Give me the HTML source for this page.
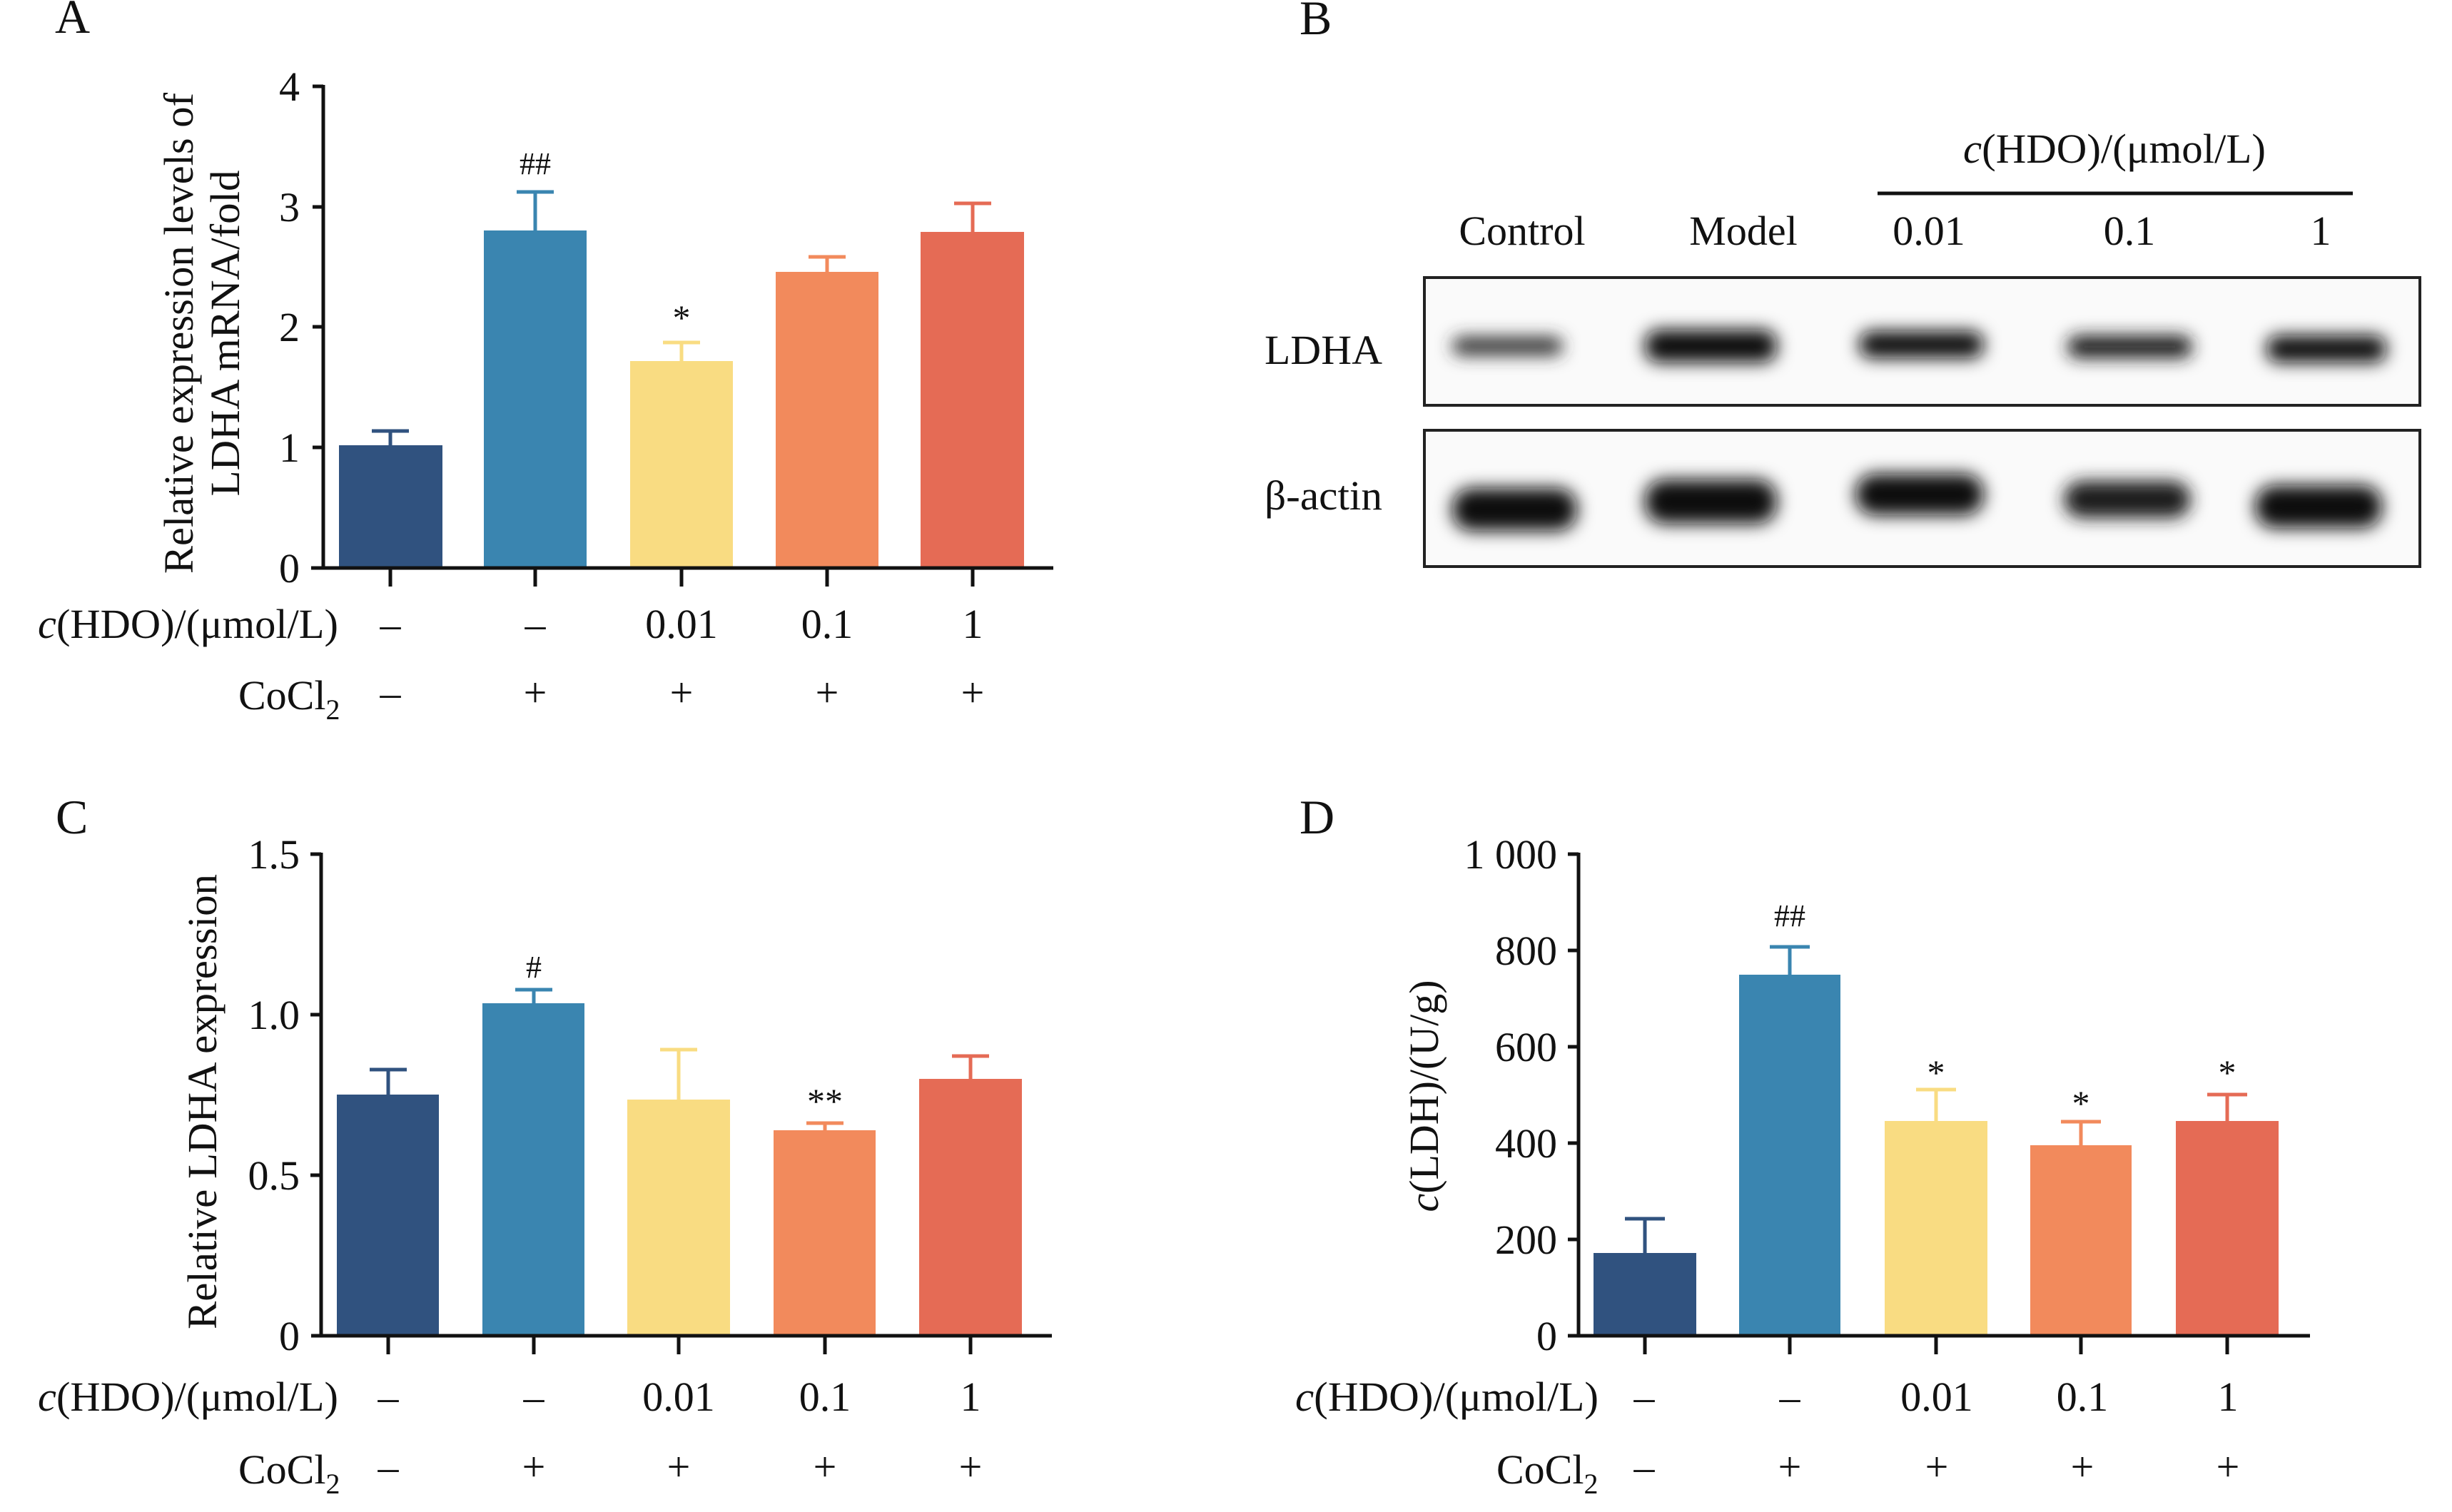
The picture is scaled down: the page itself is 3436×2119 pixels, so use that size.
<!DOCTYPE html>
<html><head><meta charset="utf-8"><style>html,body{margin:0;padding:0;background:#fff}svg{display:block}text{font-family:"Liberation Serif",serif;fill:#111}</style></head><body>
<svg width="3436" height="2119" viewBox="0 0 3436 2119" xmlns="http://www.w3.org/2000/svg">
<defs>
<filter id="bl" x="-20%" y="-80%" width="140%" height="260%"><feGaussianBlur stdDeviation="12"/></filter>
</defs>
<g font-size="58">
<text x="77" y="46" font-size="68">A</text>
<text x="1821" y="48" font-size="68">B</text>
<text x="78" y="1168" font-size="68">C</text>
<text x="1821" y="1168" font-size="68">D</text>

<!-- ===== Panel A ===== -->
<g>
<g transform="translate(-9,0)">
<rect x="484" y="624" width="145" height="172" fill="#30527f"/>
<rect x="687" y="323" width="144" height="473" fill="#3a85b0"/>
<rect x="892" y="506" width="144" height="290" fill="#f9dc82"/>
<rect x="1096" y="381" width="144" height="415" fill="#f28a5c"/>
<rect x="1299" y="325" width="145" height="471" fill="#e56b55"/>
<g stroke-width="5">
<path d="M556 624V604M530 604H582" stroke="#30527f"/>
<path d="M759 323V269M733 269H785" stroke="#3a85b0"/>
<path d="M964 506V480M938 480H990" stroke="#f9dc82"/>
<path d="M1168 381V360M1142 360H1194" stroke="#f28a5c"/>
<path d="M1372 325V285M1346 285H1398" stroke="#e56b55"/>
</g>
<path d="M556 798V822M759 798V822M964 798V822M1168 798V822M1372 798V822" stroke="#111" stroke-width="5"/>
<text x="759" y="244" text-anchor="middle" font-size="44">##</text>
<text x="964" y="462" text-anchor="middle" font-size="50">*</text>
<g text-anchor="middle"><text x="556" y="894">–</text><text x="759" y="894">–</text><text x="964" y="894">0.01</text><text x="1168" y="894">0.1</text><text x="1372" y="894">1</text>
<text x="556" y="990">–</text><text x="759" y="990">+</text><text x="964" y="990">+</text><text x="1168" y="990">+</text><text x="1372" y="990">+</text></g>
</g>
<g stroke="#111" stroke-width="5" fill="none">
<path d="M453 119V798M436 796H1476"/>
<path d="M438 121H453M438 290H453M438 458H453M438 627H453"/>
</g>
<g text-anchor="end"><text x="420" y="141">4</text><text x="420" y="310">3</text><text x="420" y="478">2</text><text x="420" y="647">1</text><text x="420" y="816">0</text></g>
<text transform="translate(270,467) rotate(-90)" text-anchor="middle" textLength="674" lengthAdjust="spacingAndGlyphs">Relative expression levels of</text>
<text transform="translate(335,467) rotate(-90)" text-anchor="middle" textLength="457" lengthAdjust="spacingAndGlyphs">LDHA mRNA/fold</text>
<text x="53" y="894" textLength="421" lengthAdjust="spacingAndGlyphs"><tspan font-style="italic">c</tspan>(HDO)/(μmol/L)</text>
<text x="334" y="994">CoCl<tspan font-size="40" dy="14">2</tspan></text>
</g>

<!-- ===== Panel B ===== -->
<g>
<text x="2963" y="228" text-anchor="middle" textLength="424" lengthAdjust="spacingAndGlyphs"><tspan font-style="italic">c</tspan>(HDO)/(μmol/L)</text>
<path d="M2631 271H3297" stroke="#111" stroke-width="5"/>
<g text-anchor="middle"><text x="2133" y="343">Control</text><text x="2443" y="343">Model</text><text x="2703" y="343">0.01</text><text x="2984" y="343">0.1</text><text x="3252" y="343">1</text></g>
<text x="1772" y="510" textLength="165" lengthAdjust="spacingAndGlyphs">LDHA</text>
<text x="1772" y="714" textLength="165" lengthAdjust="spacingAndGlyphs">β-actin</text>
<rect x="1996" y="389" width="1395" height="179" fill="#fafafa" stroke="#222" stroke-width="4"/>
<rect x="1996" y="603" width="1395" height="191" fill="#fafafa" stroke="#222" stroke-width="4"/>
<g filter="url(#bl)" fill="#0a0a0a">
<rect x="2035" y="472" width="155" height="26" rx="13" fill="#333"/>
<rect x="2305" y="462" width="185" height="46" rx="20"/>
<rect x="2605" y="464" width="175" height="38" rx="18"/>
<rect x="2897" y="470" width="175" height="32" rx="15" fill="#1a1a1a"/>
<rect x="3176" y="470" width="168" height="38" rx="17"/>
<rect x="2035" y="684" width="175" height="60" rx="28"/>
<rect x="2305" y="672" width="185" height="62" rx="28"/>
<rect x="2600" y="664" width="180" height="58" rx="28"/>
<rect x="2892" y="674" width="178" height="52" rx="26" fill="#1a1a1a"/>
<rect x="3160" y="680" width="178" height="60" rx="28"/>
</g>
</g>

<!-- ===== Panel C ===== -->
<g>
<g transform="translate(-9,0)">
<rect x="481" y="1534" width="143" height="338" fill="#30527f"/>
<rect x="685" y="1406" width="143" height="466" fill="#3a85b0"/>
<rect x="888" y="1541" width="144" height="331" fill="#f9dc82"/>
<rect x="1093" y="1584" width="143" height="288" fill="#f28a5c"/>
<rect x="1297" y="1512" width="144" height="360" fill="#e56b55"/>
<g stroke-width="5">
<path d="M553 1534V1499M527 1499H579" stroke="#30527f"/>
<path d="M757 1406V1387M731 1387H783" stroke="#3a85b0"/>
<path d="M960 1541V1471M934 1471H986" stroke="#f9dc82"/>
<path d="M1165 1584V1574M1139 1574H1191" stroke="#f28a5c"/>
<path d="M1369 1512V1480M1343 1480H1395" stroke="#e56b55"/>
</g>
<path d="M553 1874V1898M757 1874V1898M960 1874V1898M1165 1874V1898M1369 1874V1898" stroke="#111" stroke-width="5"/>
<text x="757" y="1370" text-anchor="middle" font-size="44">#</text>
<text x="1165" y="1560" text-anchor="middle" font-size="50">**</text>
<g text-anchor="middle"><text x="553" y="1977">–</text><text x="757" y="1977">–</text><text x="960" y="1977">0.01</text><text x="1165" y="1977">0.1</text><text x="1369" y="1977">1</text>
<text x="553" y="2075">–</text><text x="757" y="2075">+</text><text x="960" y="2075">+</text><text x="1165" y="2075">+</text><text x="1369" y="2075">+</text></g>
</g>
<g stroke="#111" stroke-width="5" fill="none">
<path d="M450 1195V1874M436 1872H1474"/>
<path d="M435 1197H450M435 1422H450M435 1647H450"/>
</g>
<g text-anchor="end"><text x="420" y="1217">1.5</text><text x="420" y="1442">1.0</text><text x="420" y="1667">0.5</text><text x="420" y="1892">0</text></g>
<text transform="translate(303,1544) rotate(-90)" text-anchor="middle" textLength="638" lengthAdjust="spacingAndGlyphs">Relative LDHA expression</text>
<text x="53" y="1977" textLength="421" lengthAdjust="spacingAndGlyphs"><tspan font-style="italic">c</tspan>(HDO)/(μmol/L)</text>
<text x="334" y="2079">CoCl<tspan font-size="40" dy="14">2</tspan></text>
</g>

<!-- ===== Panel D ===== -->
<g>
<g transform="translate(-12,0)">
<rect x="2245" y="1756" width="144" height="116" fill="#30527f"/>
<rect x="2449" y="1366" width="142" height="506" fill="#3a85b0"/>
<rect x="2653" y="1571" width="144" height="301" fill="#f9dc82"/>
<rect x="2857" y="1605" width="142" height="267" fill="#f28a5c"/>
<rect x="3061" y="1571" width="144" height="301" fill="#e56b55"/>
<g stroke-width="5">
<path d="M2317 1756V1708M2289 1708H2345" stroke="#30527f"/>
<path d="M2520 1366V1327M2492 1327H2548" stroke="#3a85b0"/>
<path d="M2725 1571V1527M2697 1527H2753" stroke="#f9dc82"/>
<path d="M2928 1605V1572M2900 1572H2956" stroke="#f28a5c"/>
<path d="M3133 1571V1534M3105 1534H3161" stroke="#e56b55"/>
</g>
<path d="M2317 1874V1898M2520 1874V1898M2725 1874V1898M2928 1874V1898M3133 1874V1898" stroke="#111" stroke-width="5"/>
<text x="2520" y="1298" text-anchor="middle" font-size="44">##</text>
<text x="2725" y="1520" text-anchor="middle" font-size="50">*</text>
<text x="2928" y="1563" text-anchor="middle" font-size="50">*</text>
<text x="3133" y="1520" text-anchor="middle" font-size="50">*</text>
<g text-anchor="middle"><text x="2316" y="1977">–</text><text x="2520" y="1977">–</text><text x="2726" y="1977">0.01</text><text x="2930" y="1977">0.1</text><text x="3134" y="1977">1</text>
<text x="2316" y="2075">–</text><text x="2520" y="2075">+</text><text x="2726" y="2075">+</text><text x="2930" y="2075">+</text><text x="3134" y="2075">+</text></g>
</g>
<g stroke="#111" stroke-width="5" fill="none">
<path d="M2212 1195V1874M2197 1872H3237"/>
<path d="M2197 1197H2212M2197 1332H2212M2197 1467H2212M2197 1602H2212M2197 1737H2212"/>
</g>
<g text-anchor="end"><text x="2182" y="1217">1 000</text><text x="2182" y="1352">800</text><text x="2182" y="1487">600</text><text x="2182" y="1622">400</text><text x="2182" y="1757">200</text><text x="2182" y="1892">0</text></g>
<text transform="translate(2015,1536) rotate(-90)" text-anchor="middle" textLength="325" lengthAdjust="spacingAndGlyphs"><tspan font-style="italic">c</tspan>(LDH)/(U/g)</text>
<text x="1815" y="1977" textLength="425" lengthAdjust="spacingAndGlyphs"><tspan font-style="italic">c</tspan>(HDO)/(μmol/L)</text>
<text x="2097" y="2079">CoCl<tspan font-size="40" dy="14">2</tspan></text>
</g>
</g>
</svg>
</body></html>
